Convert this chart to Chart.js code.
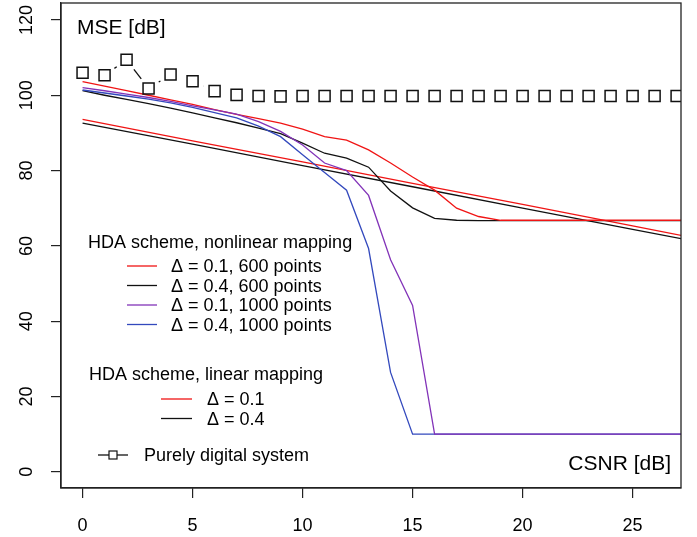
<!DOCTYPE html>
<html>
<head>
<meta charset="utf-8">
<script src="https://cdn.jsdelivr.net/npm/chart.js@4.4.1/dist/chart.umd.min.js"></script>
<style>
  html, body { margin: 0; padding: 0; background: #fff; }
  canvas { display: block; }
</style>
</head>
<body>
<canvas id="chart" width="697" height="537"></canvas>
<script>
// CSNR values (dB) the curves were computed at
const csnr = [0, 1, 2, 3, 4, 5, 6, 7, 8, 9, 10, 11, 12, 13, 14, 15, 16, 17, 18, 19, 20, 21, 22, 23, 24, 25, 26, 27, 28];

// HDA scheme, nonlinear mapping (MSE dB)
const nlD01p600 = [103.6, 102.4, 101.2, 100.0, 98.8, 97.6, 96.2, 94.9, 93.8, 92.6, 91.0, 89.0, 88.1, 85.5, 82.0, 78.3, 74.8, 70.0, 67.8,
  66.8, 66.8, 66.8, 66.8, 66.8, 66.8, 66.8, 66.8, 66.8, 66.8];
const nlD04p600 = [101.2, 100.0, 98.9, 97.8, 96.6, 95.3, 94.0, 92.7, 91.3, 89.8, 87.3, 84.6, 83.3, 80.9, 74.6, 70.1, 67.3, 66.8,
  66.7, 66.7, 66.7, 66.7, 66.7, 66.7, 66.7, 66.7, 66.7, 66.7, 66.7];
const nlD01p1000 = [102.0, 101.2, 100.3, 99.4, 98.4, 97.2, 96.1, 95.0, 93.0, 90.4, 86.8, 82.0, 80.0, 73.4, 56.3, 44.2,
  10.0, 10.0, 10.0, 10.0, 10.0, 10.0, 10.0, 10.0, 10.0, 10.0, 10.0, 10.0, 10.0];
const nlD04p1000 = [101.4, 100.6, 99.8, 99.0, 98.0, 96.8, 95.4, 94.0, 91.8, 89.0, 84.2, 79.5, 74.8, 59.3, 26.4,
  10.0, 10.0, 10.0, 10.0, 10.0, 10.0, 10.0, 10.0, 10.0, 10.0, 10.0, 10.0, 10.0, 10.0];

// HDA scheme, linear mapping
const linCsnr = [0, 5, 10, 15, 20, 25, 28];
const linD01 = [93.6, 87.9, 82.3, 76.6, 71.0, 65.3, 61.9];
const linD04 = [92.6, 87.0, 81.3, 75.7, 70.0, 64.4, 61.0];

// purely digital system, 0..27 dB
const digital = [106.0, 105.3, 109.4, 101.8, 105.5, 103.7, 101.1, 100.1, 99.8, 99.7,
  99.8, 99.8, 99.8, 99.8, 99.8, 99.8, 99.8, 99.8, 99.8, 99.8, 99.8, 99.8, 99.8, 99.8, 99.8, 99.8, 99.8, 99.8];

const xTicks = [0, 5, 10, 15, 20, 25];
const yTicks = [0, 20, 40, 60, 80, 100, 120];

const RED = '#f01414';
const BLACK = '#111111';
const PURPLE = '#8233b8';
const BLUE = '#3349bd';
const FONT = '"Liberation Sans", Arial, sans-serif';

function pairs(xs, ys) {
  return ys.map((y, i) => ({ x: xs[i], y: y }));
}

function curve(data, color, order) {
  return {
    data: data,
    borderColor: color,
    borderWidth: 1.3,
    pointRadius: 0,
    tension: 0,
    fill: false,
    order: order
  };
}

// type="b" look: segments between squares, with a gap round each point
const digitalLines = {
  id: 'digitalLines',
  afterDatasetsDraw(chart) {
    const ctx = chart.ctx;
    const area = chart.chartArea;
    const pts = chart.getDatasetMeta(0).data;
    const gap = 12;
    ctx.save();
    ctx.beginPath();
    ctx.rect(area.left, area.top, area.right - area.left, area.bottom - area.top);
    ctx.clip();
    ctx.strokeStyle = BLACK;
    ctx.lineWidth = 1.3;
    for (let i = 0; i < pts.length - 1; i++) {
      const a = pts[i], b = pts[i + 1];
      const dx = b.x - a.x, dy = b.y - a.y;
      const len = Math.sqrt(dx * dx + dy * dy);
      if (len <= 2 * gap) continue;
      const ux = dx / len, uy = dy / len;
      ctx.beginPath();
      ctx.moveTo(a.x + ux * gap, a.y + uy * gap);
      ctx.lineTo(b.x - ux * gap, b.y - uy * gap);
      ctx.stroke();
    }
    ctx.restore();
  }
};

const frameAndText = {
  id: 'frameAndText',
  afterDraw(chart) {
    const ctx = chart.ctx;
    const area = chart.chartArea;
    const yScale = chart.scales.y;
    ctx.save();

    // box
    ctx.strokeStyle = '#222';
    ctx.lineWidth = 1.3;
    ctx.strokeRect(area.left, area.top, area.right - area.left, area.bottom - area.top);

    // vertical y tick labels
    ctx.fillStyle = '#000';
    ctx.font = '18px ' + FONT;
    ctx.textAlign = 'center';
    ctx.textBaseline = 'alphabetic';
    yTicks.forEach(v => {
      const py = yScale.getPixelForValue(v);
      ctx.save();
      ctx.translate(32, py);
      ctx.rotate(-Math.PI / 2);
      ctx.fillText(String(v), 0, 0);
      ctx.restore();
    });

    // axis titles inside the box
    ctx.font = '21px ' + FONT;
    ctx.textAlign = 'left';
    ctx.fillText('MSE [dB]', 77, 34);
    ctx.textAlign = 'right';
    ctx.fillText('CSNR [dB]', 671, 470);

    // legend
    ctx.font = '18px ' + FONT;
    ctx.textAlign = 'left';
    const text = (s, x, yc) => ctx.fillText(s, x, yc + 6.4);
    const seg = (x0, x1, yc, color) => {
      ctx.strokeStyle = color;
      ctx.lineWidth = 1.3;
      ctx.beginPath();
      ctx.moveTo(x0, yc);
      ctx.lineTo(x1, yc);
      ctx.stroke();
    };

    text('HDA scheme, nonlinear mapping', 88, 242);
    const nlItems = [
      ['\u0394 = 0.1, 600 points', RED, 266],
      ['\u0394 = 0.4, 600 points', BLACK, 285.5],
      ['\u0394 = 0.1, 1000 points', PURPLE, 305],
      ['\u0394 = 0.4, 1000 points', BLUE, 324.5]
    ];
    nlItems.forEach(it => {
      seg(127, 157, it[2], it[1]);
      text(it[0], 171, it[2]);
    });

    text('HDA scheme, linear mapping', 89, 374);
    seg(161, 192, 399, RED);
    text('\u0394 = 0.1', 207, 399);
    seg(161, 192, 418.5, BLACK);
    text('\u0394 = 0.4', 207, 418.5);

    seg(98, 109, 455, BLACK);
    seg(117, 128, 455, BLACK);
    ctx.strokeStyle = BLACK;
    ctx.lineWidth = 1.2;
    ctx.strokeRect(109, 451, 8, 8);
    text('Purely digital system', 144, 455);

    ctx.restore();
  }
};

const datasets = [
  {
    data: pairs(csnr, digital),
    showLine: false,
    pointStyle: 'rect',
    pointRadius: 7.8,
    pointBorderWidth: 1.5,
    pointBorderColor: BLACK,
    pointBackgroundColor: 'rgba(0,0,0,0)',
    order: 0
  },
  curve(pairs(csnr, nlD01p1000), PURPLE, 1),
  curve(pairs(csnr, nlD04p1000), BLUE, 2),
  curve(pairs(csnr, nlD01p600), RED, 3),
  curve(pairs(csnr, nlD04p600), BLACK, 4),
  curve(pairs(linCsnr, linD01), RED, 5),
  curve(pairs(linCsnr, linD04), BLACK, 6)
];

new Chart(document.getElementById('chart').getContext('2d'), {
  type: 'line',
  data: { datasets: datasets },
  options: {
    responsive: false,
    animation: false,
    devicePixelRatio: 1,
    layout: { autoPadding: false, padding: { left: 0, right: 16, top: 3, bottom: 0 } },
    scales: {
      x: {
        type: 'linear',
        min: -0.98,
        max: 27.2,
        afterBuildTicks: s => { s.ticks = xTicks.map(v => ({ value: v })); },
        afterFit: s => { s.height = 49; },
        ticks: { color: '#000', font: { size: 18, family: FONT }, padding: 17, maxRotation: 0 },
        grid: { drawOnChartArea: false, drawTicks: true, tickLength: 10, color: '#222', lineWidth: 1.2 },
        border: { display: true, color: '#222', width: 1.3 }
      },
      y: {
        type: 'linear',
        min: -4.3,
        max: 124.5,
        afterBuildTicks: s => { s.ticks = yTicks.map(v => ({ value: v })); },
        afterFit: s => { s.width = 61; },
        ticks: { display: false },
        grid: { drawOnChartArea: false, drawTicks: true, tickLength: 10, color: '#222', lineWidth: 1.2 },
        border: { display: true, color: '#222', width: 1.3 }
      }
    },
    plugins: {
      legend: { display: false },
      tooltip: { enabled: false }
    }
  },
  plugins: [digitalLines, frameAndText]
});
</script>
</body>
</html>
